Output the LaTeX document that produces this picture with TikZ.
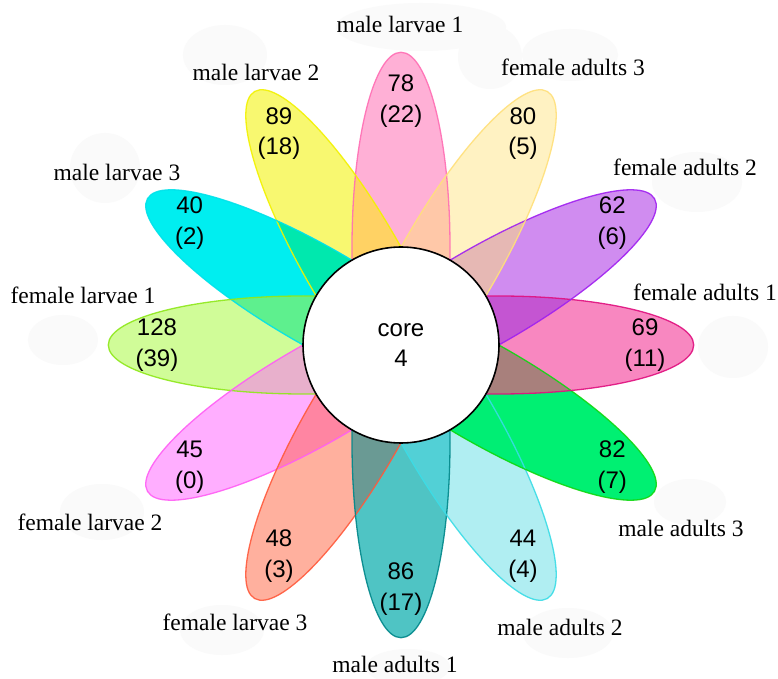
\documentclass[tikz,border=0pt]{standalone}
\usepackage{fontspec}
\setmainfont{Liberation Serif}
\newfontfamily\numfont{Liberation Sans}
% petal fills (as seen on white)
\definecolor{fA}{HTML}{FFB0D6}\definecolor{bA}{HTML}{FF6EB4}
\definecolor{fB}{HTML}{F8F870}\definecolor{bB}{HTML}{F2F200}
\definecolor{fC}{HTML}{00EEF0}\definecolor{bC}{HTML}{00E2EA}
\definecolor{fD}{HTML}{D0FC98}\definecolor{bD}{HTML}{8EE81A}
\definecolor{fE}{HTML}{FFAEFF}\definecolor{bE}{HTML}{FF5EF5}
\definecolor{fF}{HTML}{FFB09E}\definecolor{bF}{HTML}{FF5A3C}
\definecolor{fG}{HTML}{4FC4C4}\definecolor{bG}{HTML}{00878A}
\definecolor{fH}{HTML}{B0EEF2}\definecolor{bH}{HTML}{3ADCE6}
\definecolor{fI}{HTML}{00F072}\definecolor{bI}{HTML}{10D810}
\definecolor{fJ}{HTML}{F887C0}\definecolor{bJ}{HTML}{E0107F}
\definecolor{fK}{HTML}{D08CF0}\definecolor{bK}{HTML}{A020F0}
\definecolor{fL}{HTML}{FFF2C2}\definecolor{bL}{HTML}{FFE07A}
\definecolor{blobc}{HTML}{FAFAFA}
% overlap colours
\definecolor{lAB}{HTML}{FFD264}
\definecolor{lBC}{HTML}{00E8AE}
\definecolor{lCD}{HTML}{5EF08E}
\definecolor{lDE}{HTML}{E8B0CC}
\definecolor{lEF}{HTML}{FF85A2}
\definecolor{lFG}{HTML}{6A9A94}
\definecolor{lGH}{HTML}{52D0D6}
\definecolor{lHI}{HTML}{00EE74}
\definecolor{lIJ}{HTML}{A8807C}
\definecolor{lJK}{HTML}{C455D2}
\definecolor{lKL}{HTML}{E6B8B4}
\definecolor{lLA}{HTML}{FFC8A8}
\newcommand\PetalFill[2]{\fill[#2,rotate=#1] (97.7,0) ellipse [x radius=195,y radius=49];}
\newcommand\PetalLens[3]{\begin{scope}\clip[rotate=#1] (97.7,0) ellipse [x radius=195,y radius=49];\fill[#3,rotate=#2] (97.7,0) ellipse [x radius=195,y radius=49];\end{scope}}
\newcommand\PetalLine[2]{\draw[#2,rotate=#1,line width=1.3pt,draw opacity=0.9] (97.7,0) ellipse [x radius=195,y radius=49];}
\begin{document}
\begin{tikzpicture}[x=1pt,y=1pt,
  num/.style={font=\numfont\fontsize{24}{30.5}\selectfont,align=center,inner sep=0pt},
  lab/.style={font=\fontsize{23.5}{28}\selectfont,inner sep=0pt},
  blob/.style={fill=blobc}]
\useasboundingbox[fill=white] (-401,-334) rectangle (377,345);
% faint background blobs
\fill[blob] (20,318) ellipse [x radius=85,y radius=24];
\fill[blob] (89,288) ellipse [x radius=32,y radius=32];
\fill[blob] (169,290) ellipse [x radius=48,y radius=26];
\fill[blob] (296,163) ellipse [x radius=45,y radius=30];
\fill[blob] (332,-2) ellipse [x radius=35,y radius=31];
\fill[blob] (289,-157) ellipse [x radius=36,y radius=23];
\fill[blob] (167,-288) ellipse [x radius=45,y radius=25];
\fill[blob] (7,-322) ellipse [x radius=42,y radius=18];
\fill[blob] (-179,-285) ellipse [x radius=42,y radius=25];
\fill[blob] (-299,-167) ellipse [x radius=42,y radius=28];
\fill[blob] (-338,5) ellipse [x radius=35,y radius=25];
\fill[blob] (-296,177) ellipse [x radius=35,y radius=35];
\fill[blob] (-176,290) ellipse [x radius=42,y radius=30];
% petals, drawn in order
\PetalFill{90}{fA}
\PetalFill{120}{fB}\PetalLens{120}{90}{lAB}
\PetalFill{150}{fC}\PetalLens{150}{120}{lBC}
\PetalFill{180}{fD}\PetalLens{180}{150}{lCD}
\PetalFill{210}{fE}\PetalLens{210}{180}{lDE}
\PetalFill{240}{fF}\PetalLens{240}{210}{lEF}
\PetalFill{270}{fG}\PetalLens{270}{240}{lFG}
\PetalFill{300}{fH}\PetalLens{300}{270}{lGH}
\PetalFill{330}{fI}\PetalLens{330}{300}{lHI}
\PetalFill{0}{fJ}\PetalLens{0}{330}{lIJ}
\PetalFill{30}{fK}\PetalLens{30}{0}{lJK}
\PetalFill{60}{fL}\PetalLens{60}{30}{lKL}\PetalLens{60}{90}{lLA}
% petal outlines
\PetalLine{90}{bA}
\PetalLine{120}{bB}
\PetalLine{150}{bC}
\PetalLine{180}{bD}
\PetalLine{210}{bE}
\PetalLine{240}{bF}
\PetalLine{270}{bG}
\PetalLine{300}{bH}
\PetalLine{330}{bI}
\PetalLine{0}{bJ}
\PetalLine{30}{bK}
\PetalLine{60}{bL}
% core
\node[circle,draw=black,fill=white,line width=1.6pt,minimum size=196pt,inner sep=0pt] (core) at (0,0) {};
\node[num] (coretext) at (0,0) {core\\4};
% counts
\node[num] (n90) at (90:244) {78\\(22)};
\node[num] (n120) at (120:244) {89\\(18)};
\node[num] (n150) at (150:244) {40\\(2)};
\node[num] (n180) at (180:244) {128\\(39)};
\node[num] (n210) at (210:244) {45\\(0)};
\node[num] (n240) at (240:244) {48\\(3)};
\node[num] (n270) at (270:244) {86\\(17)};
\node[num] (n300) at (300:244) {44\\(4)};
\node[num] (n330) at (330:244) {82\\(7)};
\node[num] (n0) at (0:244) {69\\(11)};
\node[num] (n30) at (30:244) {62\\(6)};
\node[num] (n60) at (60:244) {80\\(5)};
% labels
\node[lab] (l90) at (-1,321) {male larvae 1};
\node[lab] (l120) at (-145,273) {male larvae 2};
\node[lab] (l150) at (-284,173) {male larvae 3};
\node[lab] (l180) at (-318,50) {female larvae 1};
\node[lab] (l210) at (-311,-177) {female larvae 2};
\node[lab] (l240) at (-166,-277) {female larvae 3};
\node[lab] (l270) at (-6,-319) {male adults 1};
\node[lab] (l300) at (159,-282) {male adults 2};
\node[lab] (l330) at (280,-183) {male adults 3};
\node[lab] (l0) at (304,53) {female adults 1};
\node[lab] (l30) at (284,178) {female adults 2};
\node[lab] (l60) at (172,278) {female adults 3};
\end{tikzpicture}
\end{document}
